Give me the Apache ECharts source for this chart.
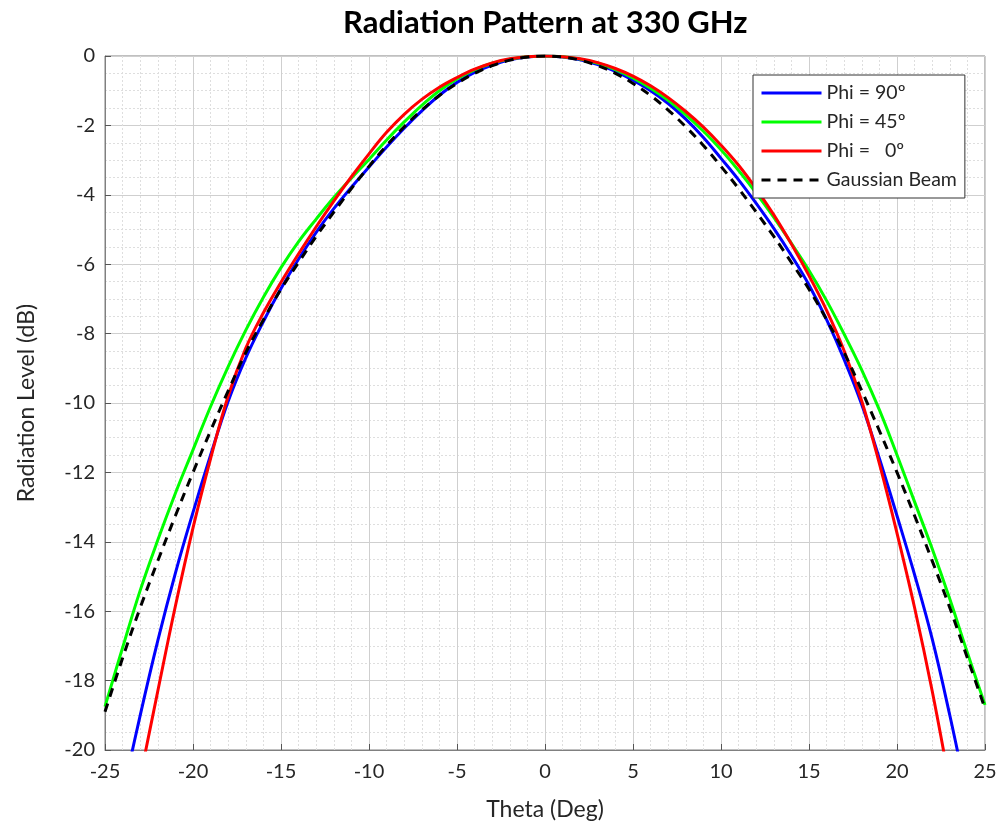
<!DOCTYPE html>
<html>
<head>
<meta charset="utf-8">
<script src="https://cdn.jsdelivr.net/npm/echarts@6/dist/echarts.min.js"></script>
<style>
html,body{margin:0;padding:0;background:#fff;}
#chart{width:1001px;height:827px;}
</style>
</head>
<body>
<div id="chart"></div>
<script>
// Theta (deg) sample positions
const theta = [-25,-24,-23,-22,-21,-20,-19,-18,-17,-16,-15,-14,-13,-12,-11,-10,-9,-8,-7,-6,-5,-4,-3,-2,-1,
  0,1,2,3,4,5,6,7,8,9,10,11,12,13,14,15,16,17,18,19,20,21,22,23,24,25];

// Radiation level (dB) per series
const phi90 = [null,-21.3,-19.0,-16.85,-14.9,-13.15,-11.5,-9.95,-8.7,-7.65,-6.7,-5.85,-5.08,-4.4,-3.78,-3.2,-2.62,-2.08,-1.58,-1.13,-0.76,-0.47,-0.26,-0.11,-0.03,
  0,-0.03,-0.11,-0.25,-0.44,-0.7,-1.0,-1.37,-1.82,-2.35,-2.95,-3.57,-4.25,-4.97,-5.75,-6.6,-7.6,-8.75,-10.05,-11.6,-13.25,-14.95,-16.8,-19.0,-21.4,null];

const phi45 = [-18.75,-17.05,-15.4,-13.95,-12.6,-11.35,-10.1,-8.95,-7.9,-6.95,-6.1,-5.35,-4.7,-4.08,-3.52,-2.98,-2.42,-1.9,-1.42,-1.0,-0.66,-0.4,-0.21,-0.09,-0.02,
  0,-0.02,-0.09,-0.21,-0.39,-0.63,-0.93,-1.28,-1.7,-2.17,-2.7,-3.3,-3.95,-4.65,-5.4,-6.18,-7.05,-8.02,-9.05,-10.2,-11.5,-12.85,-14.2,-15.65,-17.2,-18.7];

const phi0 = [null,-23.3,-20.8,-18.3,-15.85,-13.6,-11.6,-9.8,-8.42,-7.4,-6.52,-5.7,-4.92,-4.18,-3.48,-2.82,-2.2,-1.68,-1.25,-0.9,-0.62,-0.38,-0.2,-0.08,-0.02,
  0,-0.02,-0.08,-0.19,-0.36,-0.58,-0.86,-1.2,-1.6,-2.05,-2.57,-3.15,-3.83,-4.58,-5.42,-6.33,-7.33,-8.5,-9.95,-11.75,-13.75,-15.9,-18.3,-21.0,-23.8,null];

const gaussian = [-18.9,-17.35,-15.9,-14.55,-13.25,-12.0,-10.8,-9.65,-8.55,-7.6,-6.72,-5.95,-5.2,-4.5,-3.82,-3.18,-2.58,-2.04,-1.56,-1.14,-0.79,-0.5,-0.28,-0.12,-0.03,
  0,-0.03,-0.12,-0.28,-0.5,-0.79,-1.14,-1.56,-2.04,-2.58,-3.18,-3.82,-4.5,-5.2,-5.95,-6.72,-7.6,-8.55,-9.65,-10.8,-12.0,-13.25,-14.55,-15.9,-17.35,-18.8];

const seriesNames = ['Phi = 90º', 'Phi = 45º', 'Phi =   0º', 'Gaussian Beam'];
const xTicks = [-25,-20,-15,-10,-5,0,5,10,15,20,25];
const yTicks = [0,-2,-4,-6,-8,-10,-12,-14,-16,-18,-20];

const FONT = 'Lato, "Open Sans", sans-serif';
const TXT = '#262626';

function pairs(arr){ return theta.map((t,i)=>[t, arr[i]]); }

const chart = echarts.init(document.getElementById('chart'), null, {renderer:'canvas'});

const axisCommon = {
  type: 'value',
  axisLine: {show: true, onZero: false, lineStyle: {color: '#808080', width: 1}},
  axisTick: {show: true, inside: true, length: 6, lineStyle: {color: '#555'}},
  axisLabel: {color: TXT, fontSize: 20, fontFamily: FONT},
  splitLine: {show: true, lineStyle: {color: '#cfcfcf', width: 1}},
  minorTick: {show: false},
  minorSplitLine: {show: true, lineStyle: {color: '#dedede', width: 1, type: [2,2]}},
  nameTextStyle: {color: TXT, fontSize: 23, fontFamily: FONT}
};

const option = {
  backgroundColor: '#ffffff',
  animation: false,
  title: {
    text: 'Radiation Pattern at 330 GHz',
    left: 343,
    top: 7,
    padding: 0,
    textStyle: {fontSize: 31, fontWeight: 'bold', color: '#000', fontFamily: FONT}
  },
  grid: {
    left: 105, right: 16, top: 56, bottom: 77,
    show: true, borderColor: '#808080', borderWidth: 1, backgroundColor: 'transparent',
    containLabel: false
  },
  legend: {
    orient: 'vertical',
    left: 753, top: 75,
    padding: [8, 8, 8, 7],
    itemGap: 9,
    itemWidth: 60,
    itemHeight: 14,
    backgroundColor: '#ffffff',
    borderColor: '#333333',
    borderWidth: 1,
    borderRadius: 0,
    itemStyle: {color: 'rgba(0,0,0,0)', borderColor: 'rgba(0,0,0,0)', borderWidth: 0, opacity: 0},
    lineStyle: {width: 3},
    textStyle: {color: TXT, fontSize: 19.5, fontFamily: FONT},
    data: seriesNames
  },
  xAxis: Object.assign({}, axisCommon, {
    min: -25, max: 25, interval: 5,
    minorTick: {show: false, splitNumber: 5},
    name: 'Theta (Deg)', nameLocation: 'middle', nameGap: 48,
    axisLabel: Object.assign({}, axisCommon.axisLabel, {margin: 12,
      formatter: v => xTicks.indexOf(v) >= 0 ? String(v) : ''})
  }),
  yAxis: Object.assign({}, axisCommon, {
    min: -20, max: 0, interval: 2,
    minorTick: {show: false, splitNumber: 4},
    name: 'Radiation Level (dB)', nameLocation: 'middle', nameGap: 67,
    axisLabel: Object.assign({}, axisCommon.axisLabel, {margin: 10,
      formatter: v => yTicks.indexOf(v) >= 0 ? String(v) : ''})
  }),
  series: [
    {name: seriesNames[0], type: 'line', data: pairs(phi90), smooth: 0.4, symbol: 'none', showSymbol: false, clip: true,
      lineStyle: {color: '#0000ff', width: 3}, itemStyle: {color: '#0000ff'}},
    {name: seriesNames[1], type: 'line', data: pairs(phi45), smooth: 0.4, symbol: 'none', showSymbol: false, clip: true,
      lineStyle: {color: '#00ff00', width: 3}, itemStyle: {color: '#00ff00'}},
    {name: seriesNames[2], type: 'line', data: pairs(phi0), smooth: 0.4, symbol: 'none', showSymbol: false, clip: true,
      lineStyle: {color: '#ff0000', width: 3}, itemStyle: {color: '#ff0000'}},
    {name: seriesNames[3], type: 'line', data: pairs(gaussian), smooth: 0.4, symbol: 'none', showSymbol: false, clip: true,
      lineStyle: {color: '#000000', width: 3, type: [9, 7]}, itemStyle: {color: '#000000'}}
  ]
};
chart.setOption(option);
</script>
</body>
</html>
